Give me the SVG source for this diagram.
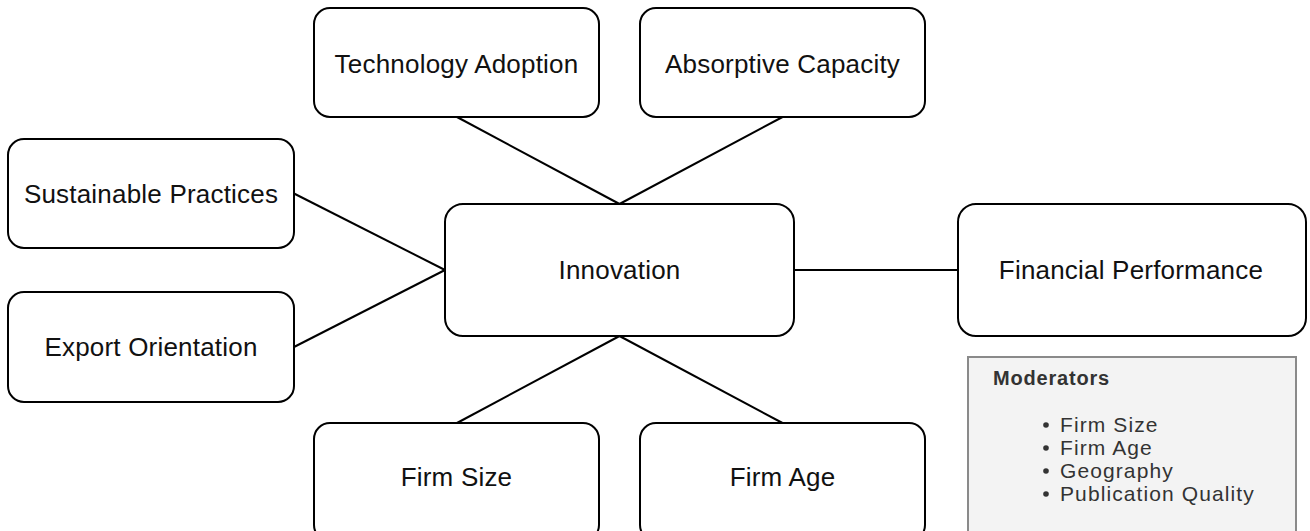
<svg xmlns="http://www.w3.org/2000/svg" width="1310" height="531" viewBox="0 0 1310 531">
<style>
.node rect{fill:#fff;stroke:#000;stroke-width:2}
.node text{font-family:"Liberation Sans",Arial,sans-serif;font-size:26px;fill:#111;text-anchor:middle;letter-spacing:0.2px}
#connectors line{stroke:#000;stroke-width:2}
.mod text{font-family:"Liberation Sans",Arial,sans-serif;fill:#333}
</style>
<rect width="1310" height="531" fill="#fff"/>
<g id="connectors">
<line x1="457" y1="117" x2="619.5" y2="204"/>
<line x1="782.5" y1="117" x2="619.5" y2="204"/>
<line x1="294" y1="193.5" x2="445" y2="270"/>
<line x1="294" y1="347" x2="445" y2="270"/>
<line x1="794" y1="270" x2="958" y2="270"/>
<line x1="457" y1="423" x2="619.5" y2="336"/>
<line x1="782.5" y1="423" x2="619.5" y2="336"/>
</g>
<g id="technology-adoption" class="node"><rect x="314" y="8" width="285" height="109" rx="16"/><text x="456.5" y="73">Technology Adoption</text></g>
<g id="absorptive-capacity" class="node"><rect x="640" y="8" width="285" height="109" rx="16"/><text x="782.5" y="73">Absorptive Capacity</text></g>
<g id="sustainable-practices" class="node"><rect x="8" y="139" width="286" height="109" rx="16"/><text x="151" y="203">Sustainable Practices</text></g>
<g id="export-orientation" class="node"><rect x="8" y="292" width="286" height="110" rx="16"/><text x="151" y="356">Export Orientation</text></g>
<g id="innovation" class="node"><rect x="445" y="204" width="349" height="132" rx="18"/><text x="619.5" y="278.5">Innovation</text></g>
<g id="financial-performance" class="node"><rect x="958" y="204" width="348" height="132" rx="18"/><text x="1131" y="278.5" letter-spacing="0.5">Financial Performance</text></g>
<g id="firm-size" class="node"><rect x="314" y="423" width="285" height="118" rx="16"/><text x="456.5" y="486">Firm Size</text></g>
<g id="firm-age" class="node"><rect x="640" y="423" width="285" height="118" rx="16"/><text x="782.5" y="486">Firm Age</text></g>
<g id="moderators" class="mod">
<rect x="968" y="357" width="328" height="185" fill="#f3f3f3" stroke="#8a8a8a" stroke-width="2"/>
<text x="993" y="385" font-size="20" font-weight="bold" letter-spacing="0.8">Moderators</text>
<g font-size="21" letter-spacing="1.1">
<text x="1060" y="432">Firm Size</text>
<text x="1060" y="455">Firm Age</text>
<text x="1060" y="478">Geography</text>
<text x="1060" y="501">Publication Quality</text>
</g>
<circle cx="1046" cy="425" r="2.8" fill="#333"/>
<circle cx="1046" cy="448" r="2.8" fill="#333"/>
<circle cx="1046" cy="471" r="2.8" fill="#333"/>
<circle cx="1046" cy="494" r="2.8" fill="#333"/>
</g>
</svg>
